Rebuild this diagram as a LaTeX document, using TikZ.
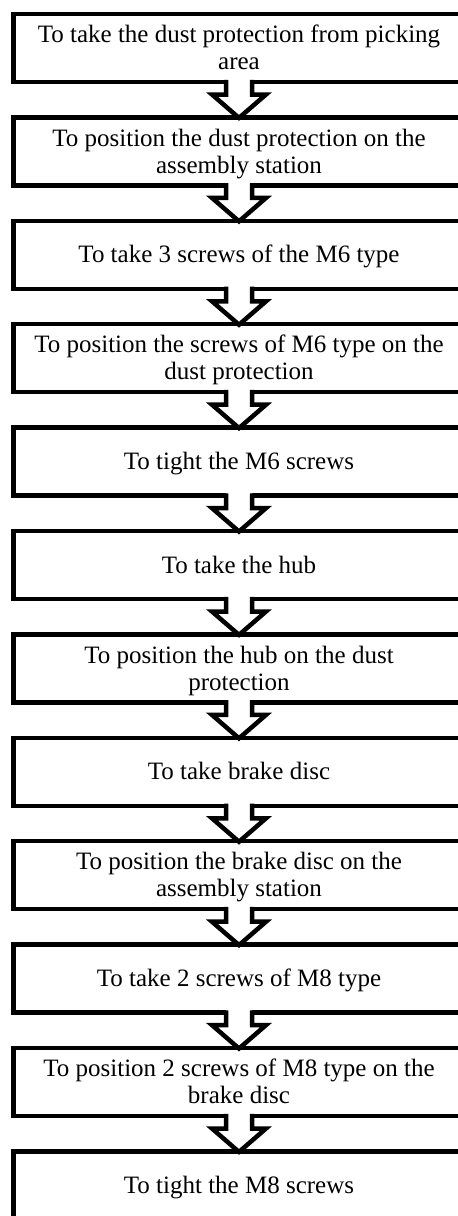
\documentclass[tikz,border=0pt]{standalone}
\usepackage{fontspec}
\setmainfont{Liberation Serif}
\usetikzlibrary{calc}
% one line of box text: fixed height and depth so every line box is alike
\newcommand\tstr{\rule[-5.4pt]{0pt}{27pt}}
\begin{document}
\begin{tikzpicture}[x=1pt,y=-1pt,
  stepbox/.style={draw=black, line width=4.5pt, fill=white, rectangle,
    minimum width=451pt, minimum height=68pt, inner sep=0pt, outer sep=0pt,
    align=center, font=\fontsize{25}{27}\selectfont},
  flowline/.style={draw=black, line width=4.5pt, miter limit=10}]
\useasboundingbox (0,0) rectangle (458,1216);
\clip (0,0) rectangle (458,1216);

\node[stepbox] (b1)  at (239,48)     {\tstr To take the dust protection from picking\\\tstr area};
\node[stepbox] (b2)  at (239,151.4)  {\tstr To position the dust protection on the\\\tstr assembly station};
\node[stepbox] (b3)  at (239,254.8)  {\tstr To take 3 screws of the M6 type};
\node[stepbox] (b4)  at (239,358.2)  {\tstr To position the screws of M6 type on the\\\tstr dust protection};
\node[stepbox] (b5)  at (239,461.6)  {\tstr To tight the M6 screws};
\node[stepbox] (b6)  at (239,565)    {\tstr To take the hub};
\node[stepbox] (b7)  at (239,668.4)  {\tstr To position the hub on the dust\\\tstr protection};
\node[stepbox] (b8)  at (239,771.8)  {\tstr To take brake disc};
\node[stepbox] (b9)  at (239,875.2)  {\tstr To position the brake disc on the\\\tstr assembly station};
\node[stepbox] (b10) at (239,978.6)  {\tstr To take 2 screws of M8 type};
\node[stepbox] (b11) at (239,1082)   {\tstr To position 2 screws of M8 type on the\\\tstr brake disc};
\node[stepbox] (b12) at (239,1185.4) {\tstr To tight the M8 screws};

% hollow block arrows joining consecutive steps
\foreach \a/\b in {b1/b2,b2/b3,b3/b4,b4/b5,b5/b6,b6/b7,b7/b8,b8/b9,b9/b10,b10/b11,b11/b12}{
  \path[fill=white] ($(\a.south)+(-13,-3.5)$) -- ($(\a.south)+(-13,12.5)$)
    -- ($(\a.south)+(-27,12.5)$) -- ($(\b.north)+(0,0.5)$)
    -- ($(\a.south)+(27,12.5)$) -- ($(\a.south)+(13,12.5)$)
    -- ($(\a.south)+(13,-3.5)$) -- cycle;
  \draw[flowline] ($(\a.south)+(-13,-2.25)$) -- ($(\a.south)+(-13,12.5)$)
    -- ($(\a.south)+(-27,12.5)$) -- ($(\b.north)+(0,0.5)$)
    -- ($(\a.south)+(27,12.5)$) -- ($(\a.south)+(13,12.5)$)
    -- ($(\a.south)+(13,-2.25)$);
}
\end{tikzpicture}
\end{document}
